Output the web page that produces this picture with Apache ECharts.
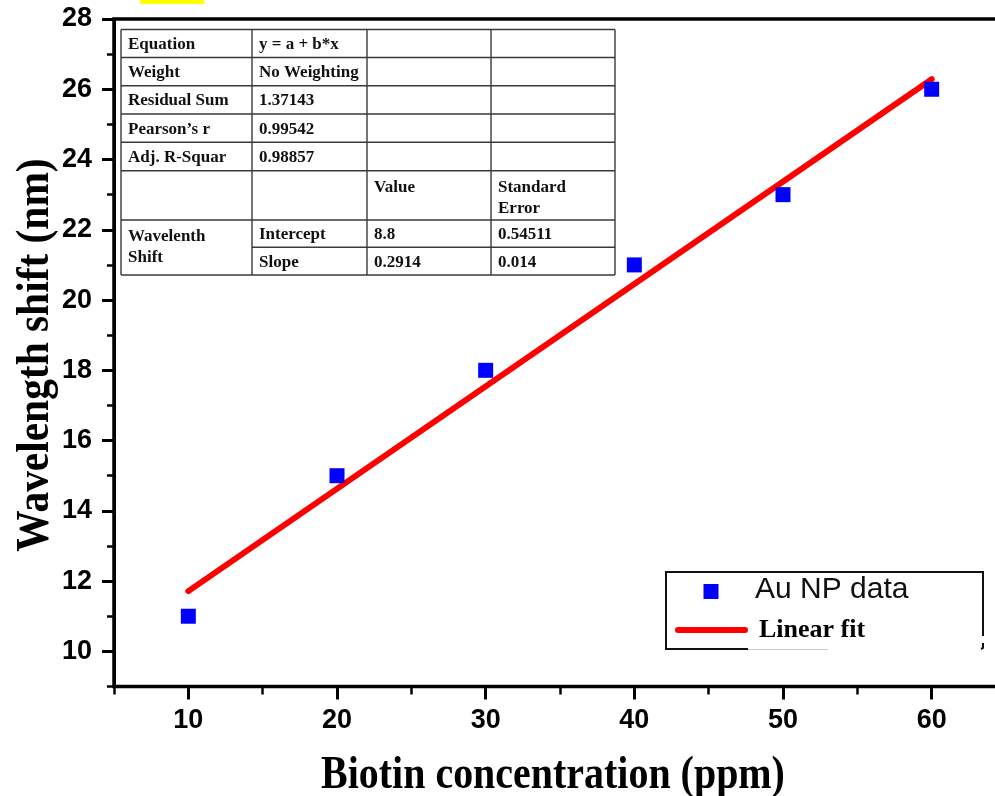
<!DOCTYPE html>
<html>
<head>
<meta charset="utf-8">
<title>Biotin calibration</title>
<script src="https://cdn.jsdelivr.net/npm/echarts@6/dist/echarts.min.js"></script>
<style>
  html, body { margin: 0; padding: 0; background: #fff; }
  #chart { width: 995px; height: 796px; }
</style>
</head>
<body>
<div id="chart"></div>
<script>
// Measured wavelength shift of Au nanoparticles vs. biotin concentration
const concentration = [10, 20, 30, 40, 50, 60];
const wavelengthShift = [11, 15, 18, 21, 23, 26];

// Linear fit y = 8.8 + 0.2914 x, evaluated at the ends of the data range
const fitX = [10, 60];
const fitY = [11.714, 26.284];

// Axis ticks and labels
const xMajorTicks = [10, 20, 30, 40, 50, 60];
const xMinorTicks = [5, 15, 25, 35, 45, 55, 65];
const yMajorTicks = [10, 12, 14, 16, 18, 20, 22, 24, 26, 28];
const yMinorTicks = [9, 11, 13, 15, 17, 19, 21, 23, 25, 27];

const xTitle = 'Biotin concentration (ppm)';
const yTitle = 'Wavelength shift (nm)';

// Fit statistics table
const tableRows = [
  ['Equation', 'y = a + b*x', '', ''],
  ['Weight', 'No Weighting', '', ''],
  ['Residual Sum', '1.37143', '', ''],
  ['Pearson\u2019s r', '0.99542', '', ''],
  ['Adj. R-Squar', '0.98857', '', '']
];
const tableHeader = ['', '', 'Value', 'Standard\nError'];
const tableGroupLabel = 'Wavelenth\nShift';
const tableParams = [
  ['Intercept', '8.8', '0.54511'],
  ['Slope', '0.2914', '0.014']
];

const legendNames = ['Au NP data', 'Linear fit'];

const chart = echarts.init(document.getElementById('chart'), null, { renderer: 'canvas' });

const tickFont = "'Liberation Sans', Arial, sans-serif";
const serif = "'Liberation Serif', 'Times New Roman', serif";

// ----- table graphics -----
const colX = [121, 252, 367, 491, 615];
const rowY = [29.5, 57.5, 85.7, 114, 142.3, 170.7, 220, 247.3, 275];
const tableEls = [];
const lineStyle = { stroke: '#3a3a3a', lineWidth: 1.4 };
function hLine(x1, x2, y) {
  tableEls.push({ type: 'line', shape: { x1: x1, y1: y, x2: x2, y2: y }, style: lineStyle, z: 10 });
}
function vLine(x, y1, y2) {
  tableEls.push({ type: 'line', shape: { x1: x, y1: y1, x2: x, y2: y2 }, style: lineStyle, z: 10 });
}
function cellText(str, x, y, vAlign) {
  tableEls.push({
    type: 'text', x: x, y: y, z: 11,
    style: {
      text: str, fill: '#111', font: 'bold 17px ' + serif,
      textVerticalAlign: vAlign || 'middle', lineHeight: 21
    }
  });
}
// white cell background so the plot frame does not show through
tableEls.push({ type: 'rect', shape: { x: colX[0], y: rowY[0], width: colX[4] - colX[0], height: rowY[8] - rowY[0] },
  style: { fill: '#fff' }, z: 9 });
for (let i = 0; i < rowY.length; i++) {
  if (i === 7) hLine(colX[1], colX[4], rowY[i]);
  else hLine(colX[0], colX[4], rowY[i]);
}
colX.forEach(function (x) { vLine(x, rowY[0], rowY[8]); });
tableRows.forEach(function (row, r) {
  const yc = (rowY[r] + rowY[r + 1]) / 2 + 1;
  row.forEach(function (s, c) { if (s) cellText(s, colX[c] + 7, yc); });
});
tableHeader.forEach(function (s, c) { if (s) cellText(s, colX[c] + 7, rowY[5] + 6, 'top'); });
cellText(tableGroupLabel, colX[0] + 7, rowY[6] + 6, 'top');
tableParams.forEach(function (row, r) {
  const yc = (rowY[6 + r] + rowY[7 + r]) / 2 + 1;
  row.forEach(function (s, c) { cellText(s, colX[c + 1] + 7, yc); });
});

// ----- legend graphics -----
const legendEls = [
  { type: 'rect', shape: { x: 666, y: 572, width: 317, height: 77 }, style: { fill: '#fff' }, z: 9 },
  { type: 'polyline', shape: { points: [[748, 649], [666, 649], [666, 572], [983, 572], [983, 636]] },
    style: { stroke: '#111', lineWidth: 2, fill: null }, z: 10 },
  { type: 'line', shape: { x1: 748, y1: 649.5, x2: 828, y2: 649.5 }, style: { stroke: '#ccc', lineWidth: 1 }, z: 10 },
  { type: 'polyline', shape: { points: [[983, 643], [983, 648], [981, 649]] },
    style: { stroke: '#111', lineWidth: 2, fill: null }, z: 10 },
  { type: 'rect', shape: { x: 703.5, y: 584, width: 15, height: 15 }, style: { fill: '#0000ff' }, z: 10 },
  { type: 'text', x: 755, y: 575, z: 10,
    style: { text: legendNames[0], font: '30px ' + tickFont, fill: '#111', textVerticalAlign: 'top' } },
  // the label's lower edge is trimmed flat
  { type: 'rect', shape: { x: 750, y: 599, width: 180, height: 12 }, style: { fill: '#fff' }, z: 10.5 },
  { type: 'line', shape: { x1: 678, y1: 630, x2: 745, y2: 630 }, style: { stroke: '#ff0000', lineWidth: 6, lineCap: 'round' }, z: 10 },
  { type: 'text', x: 759, y: 630, z: 11,
    style: { text: legendNames[1], font: 'bold 26px ' + serif, fill: '#000', textVerticalAlign: 'middle' } }
];

// ----- axis titles (condensed serif) -----
const titleEls = [
  { type: 'text', x: 553, y: 776, scaleX: 0.85, z: 10,
    style: { text: xTitle, font: 'bold 47px ' + serif, fill: '#000', textAlign: 'center', textVerticalAlign: 'middle' } },
  { type: 'text', x: 36, y: 355, rotation: Math.PI / 2, scaleX: 0.9, z: 10,
    style: { text: yTitle, font: 'bold 46px ' + serif, fill: '#000', textAlign: 'center', textVerticalAlign: 'middle' } }
];

const option = {
  backgroundColor: '#fff',
  animation: false,
  grid: {
    left: 114, top: 19, right: -11, bottom: 109.5,
    containLabel: false, outerBoundsMode: 'none',
    show: true, borderColor: '#000', borderWidth: 3.5, backgroundColor: 'transparent'
  },
  xAxis: [
    {
      type: 'value', position: 'bottom', min: 5, max: 65,
      axisLine: { show: true, onZero: false, lineStyle: { color: '#000', width: 3 } },
      axisTick: { show: true, customValues: xMajorTicks, length: 13, lineStyle: { color: '#000', width: 3 } },
      axisLabel: {
        customValues: xMajorTicks, margin: 21, color: '#000',
        fontFamily: tickFont, fontWeight: 'bold', fontSize: 27
      },
      splitLine: { show: false }
    },
    {
      type: 'value', position: 'bottom', min: 5, max: 65,
      axisLine: { show: false },
      axisTick: { show: true, customValues: xMinorTicks, length: 8, lineStyle: { color: '#000', width: 2.5 } },
      axisLabel: { show: false },
      splitLine: { show: false }
    }
  ],
  yAxis: [
    {
      type: 'value', position: 'left', min: 9, max: 28,
      axisLine: { show: true, onZero: false, lineStyle: { color: '#000', width: 3 } },
      axisTick: { show: true, customValues: yMajorTicks, length: 12, lineStyle: { color: '#000', width: 3 } },
      axisLabel: {
        customValues: yMajorTicks, margin: 22, color: '#000',
        fontFamily: tickFont, fontWeight: 'bold', fontSize: 27
      },
      splitLine: { show: false }
    },
    {
      type: 'value', position: 'left', min: 9, max: 28,
      axisLine: { show: false },
      axisTick: { show: true, customValues: yMinorTicks, length: 7, lineStyle: { color: '#000', width: 2.5 } },
      axisLabel: { show: false },
      splitLine: { show: false }
    }
  ],
  series: [
    {
      name: legendNames[1], type: 'line', xAxisIndex: 0, yAxisIndex: 0,
      data: fitX.map(function (x, i) { return [x, fitY[i]]; }),
      showSymbol: false, symbol: 'none',
      lineStyle: { color: '#ff0000', width: 6, cap: 'round' },
      z: 3
    },
    {
      name: legendNames[0], type: 'scatter', xAxisIndex: 0, yAxisIndex: 0,
      data: concentration.map(function (x, i) { return [x, wavelengthShift[i]]; }),
      symbol: 'rect', symbolSize: 15,
      itemStyle: { color: '#0000ff', opacity: 1 },
      z: 4
    }
  ],
  graphic: [
    { type: 'rect', shape: { x: 140, y: 0, width: 64, height: 4 }, style: { fill: '#ffff00' }, z: 20 },
    { type: 'group', children: tableEls },
    { type: 'group', children: legendEls },
    { type: 'group', children: titleEls }
  ]
};

chart.setOption(option);
</script>
</body>
</html>
